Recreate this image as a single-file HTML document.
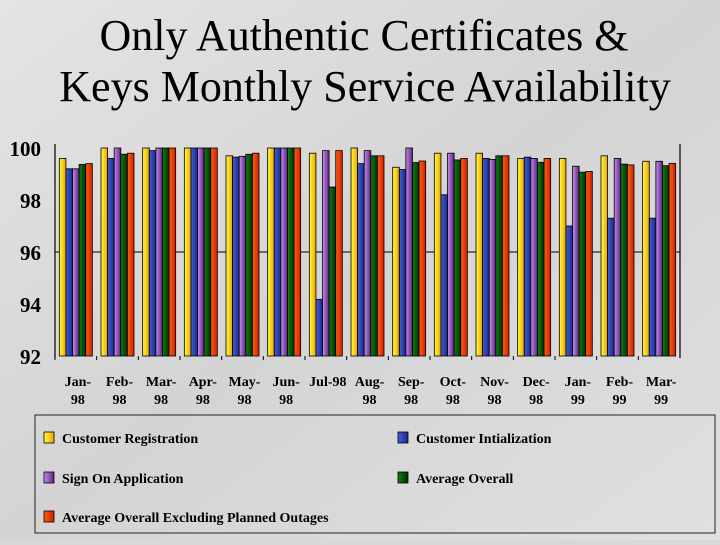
<!DOCTYPE html>
<html><head><meta charset="utf-8"><style>
body{margin:0;width:720px;height:540px;overflow:hidden;background:#d8d8d8;font-family:"Liberation Serif",serif}
</style></head><body>
<svg width="720" height="540">
<defs>
<linearGradient id="bg" x1="0" y1="0" x2="1" y2="1"><stop offset="0" stop-color="#e4e4e4"/><stop offset="0.5" stop-color="#d4d4d4"/><stop offset="1" stop-color="#e0e0e0"/></linearGradient>
<linearGradient id="g0" x1="0" x2="1"><stop offset="0" stop-color="#ffff40"/><stop offset="1" stop-color="#f0a000"/></linearGradient>
<linearGradient id="g1" x1="0" x2="1"><stop offset="0" stop-color="#4060e0"/><stop offset="1" stop-color="#1a2a80"/></linearGradient>
<linearGradient id="g2" x1="0" x2="1"><stop offset="0" stop-color="#c090f0"/><stop offset="1" stop-color="#602080"/></linearGradient>
<linearGradient id="g3" x1="0" x2="1"><stop offset="0" stop-color="#108010"/><stop offset="1" stop-color="#003000"/></linearGradient>
<linearGradient id="g4" x1="0" x2="1"><stop offset="0" stop-color="#ff6010"/><stop offset="1" stop-color="#d02000"/></linearGradient>
</defs>
<rect width="720" height="540" fill="url(#bg)"/>
<text x="364" y="50" font-size="44" text-anchor="middle">Only Authentic Certificates &amp;</text>
<text x="365" y="101" font-size="44" text-anchor="middle">Keys Monthly Service Availability</text>
<g id="plot"></g>
<rect x="35" y="415" width="680" height="118" fill="none" stroke="#222" stroke-width="1"/>
<g id="legend" font-weight="bold" font-size="14"></g>
</svg>
<script>
const categories=[["Jan-","98"],["Feb-","98"],["Mar-","98"],["Apr-","98"],["May-","98"],["Jun-","98"],["Jul-98",""],["Aug-","98"],["Sep-","98"],["Oct-","98"],["Nov-","98"],["Dec-","98"],["Jan-","99"],["Feb-","99"],["Mar-","99"]];
const seriesNames=["Customer Registration","Customer Intialization","Sign On Application","Average Overall","Average Overall Excluding Planned Outages"];
const custReg=[99.6,100,100,100,99.7,100,99.8,100,99.26,99.8,99.8,99.6,99.6,99.7,99.49];
const custInit=[99.2,99.6,99.9,100,99.65,100,94.18,99.4,99.17,98.2,99.6,99.65,97.0,97.3,97.3];
const signOn=[99.2,100,100,100,99.68,100,99.9,99.9,100,99.8,99.56,99.6,99.3,99.6,99.49];
const avgOverall=[99.37,99.76,100,100,99.76,100,98.5,99.7,99.44,99.54,99.7,99.45,99.07,99.38,99.32];
const avgExcl=[99.4,99.8,100,100,99.8,100,99.9,99.7,99.5,99.6,99.7,99.6,99.1,99.35,99.41];
const yTicks=[92,94,96,98,100];
const series=[custReg,custInit,signOn,avgOverall,avgExcl];
const NS="http://www.w3.org/2000/svg";
const x0=55,x1=680,yTop=148,yBot=356,vMin=92,vMax=100;
const y=v=>yBot-(v-vMin)/(vMax-vMin)*(yBot-yTop);
const gw=(x1-x0)/categories.length;
const bw=6.6;
const plot=document.getElementById('plot');
function mk(t,a,p){const e=document.createElementNS(NS,t);for(const k in a)e.setAttribute(k,a[k]);(p||plot).appendChild(e);return e;}
let l=mk('line',{x1:x0,x2:x1,y1:y(96),y2:y(96),stroke:'#000','stroke-width':1});


l=mk('line',{x1:x0,x2:x0,y1:yTop-4,y2:yBot+2,stroke:'#000','stroke-width':1.2});


l=mk('line',{x1:x1,x2:x1,y1:yTop-4,y2:yBot+2,stroke:'#000','stroke-width':1.2});


yTicks.forEach(v=>{
 const t=mk('text',{x:41,y:y(v)+8,'font-size':21,'font-weight':'bold','text-anchor':'end'});
 t.textContent=v;
 
 
});
categories.forEach((c,i)=>{
 const gx=x0+i*gw+(gw-5*bw)/2;
 series.forEach((s,j)=>{
  const r=mk('rect',{x:gx+j*bw,y:y(s[i]),width:bw,height:yBot-y(s[i]),fill:'url(#g'+j+')',stroke:'#000','stroke-width':0.8});
  
  
 });
 const cx=x0+i*gw+gw/2+2;
 const tk=mk('line',{x1:x0+i*gw,x2:x0+i*gw,y1:yBot,y2:yBot+4,stroke:'#000'});
 
 
 const t=mk('text',{x:cx,y:386,'font-size':14,'font-weight':'bold','text-anchor':'middle'});
 t.textContent=c[0];
 
 
 const t2=mk('text',{x:cx,y:404,'font-size':14,'font-weight':'bold','text-anchor':'middle'});
 t2.textContent=c[1];
 
 
});
const leg=document.getElementById('legend');
const pos=[[44,432],[398,432],[44,472],[398,472],[44,511]];
seriesNames.forEach((n,j)=>{
 const r=mk('rect',{x:pos[j][0],y:pos[j][1],width:10,height:11,fill:'url(#g'+j+')',stroke:'#000','stroke-width':0.8},leg);
 
 
 const t=mk('text',{x:pos[j][0]+18,y:pos[j][1]+11},leg);
 t.textContent=n;
 
 
});
</script>
</body></html>
